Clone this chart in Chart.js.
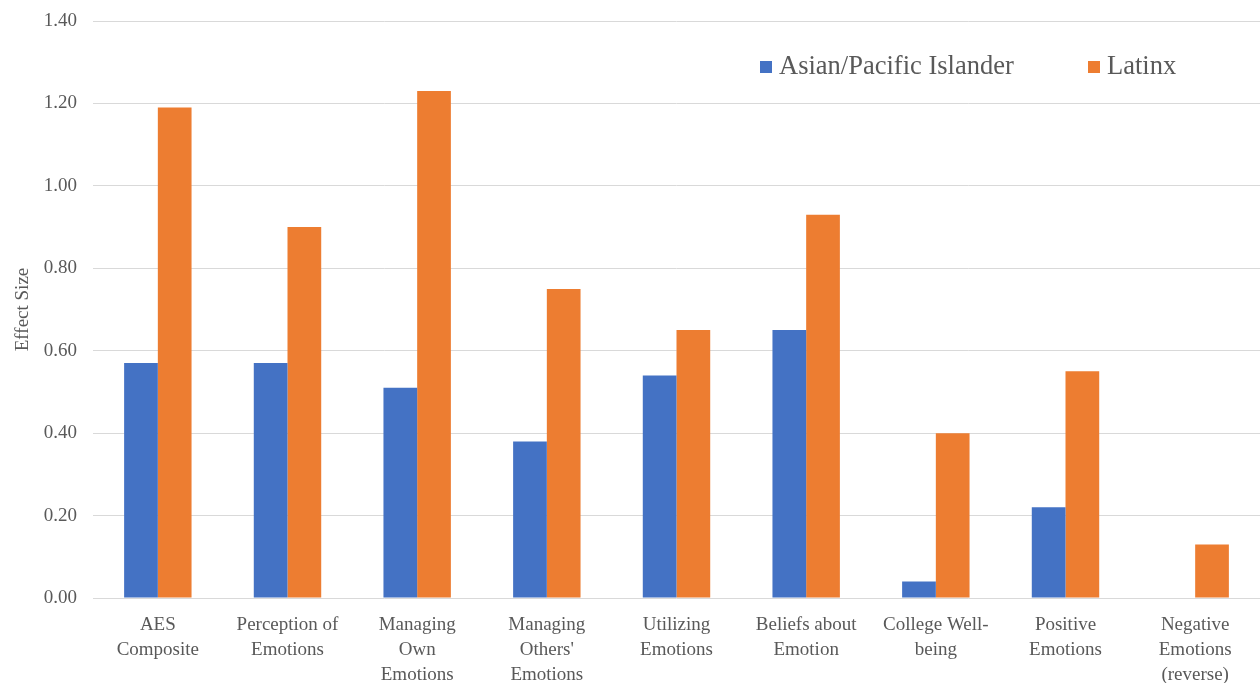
<!DOCTYPE html>
<html>
<head>
<meta charset="utf-8">
<script src="https://cdn.jsdelivr.net/npm/chart.js@4"></script>
<style>
  html, body { margin: 0; padding: 0; background: #fff; }
  #wrap { width: 1260px; height: 683px; }
</style>
</head>
<body>
<div id="wrap"><canvas id="chart-0" width="1260" height="683"></canvas></div>
<script>
// categories and effect sizes
var categories = [
    ["AES", "Composite"],
    ["Perception of", "Emotions"],
    ["Managing", "Own", "Emotions"],
    ["Managing", "Others'", "Emotions"],
    ["Utilizing", "Emotions"],
    ["Beliefs about", "Emotion"],
    ["College Well-", "being"],
    ["Positive", "Emotions"],
    ["Negative", "Emotions", "(reverse)"]
];
var asianValues = [0.57, 0.57, 0.51, 0.38, 0.54, 0.65, 0.04, 0.22, 0];
var latinxValues = [1.19, 0.90, 1.23, 0.75, 0.65, 0.93, 0.40, 0.55, 0.13];
var seriesNames = ["Asian/Pacific Islander", "Latinx"];
var yTicks = [0, 0.2, 0.4, 0.6, 0.8, 1.0, 1.2, 1.4];

var serif = "'Liberation Serif', 'Times New Roman', serif";

// legend drawn inside the plot, top right
var insideLegend = {
    id: 'insideLegend',
    afterDraw: function (chart) {
        var ctx = chart.ctx;
        var spots = [760, 1088];
        ctx.save();
        ctx.font = "26.5px " + serif;
        ctx.textBaseline = "middle";
        chart.data.datasets.forEach(function (ds, i) {
            var x = spots[i];
            ctx.fillStyle = ds.backgroundColor;
            ctx.fillRect(x, 61, 12, 12);
            ctx.fillStyle = "#595959";
            ctx.fillText(ds.label, x + 19, 67);
        });
        ctx.restore();
    }
};

var ctx = document.getElementById("chart-0");
var myChart = new Chart(ctx, {
    type: "bar",
    data: {
        labels: categories,
        datasets: [{
            label: seriesNames[0],
            data: asianValues,
            backgroundColor: "#4472C4"
        }, {
            label: seriesNames[1],
            data: latinxValues,
            backgroundColor: "#ED7D31"
        }]
    },
    options: {
        responsive: false,
        animation: false,
        layout: { padding: { top: 21, right: 0, left: 0, bottom: 0 } },
        plugins: {
            legend: { display: false },
            tooltip: { enabled: false }
        },
        datasets: {
            bar: { categoryPercentage: 0.52, barPercentage: 1.0 }
        },
        scales: {
            x: {
                grid: { display: false },
                border: { display: false },
                ticks: {
                    color: "#595959",
                    font: { family: serif, size: 19, lineHeight: 1.3 },
                    maxRotation: 0,
                    autoSkip: false,
                    padding: 7
                },
                afterFit: function (scale) { scale.height = 85; }
            },
            y: {
                min: 0,
                max: 1.4,
                afterBuildTicks: function (scale) {
                    scale.ticks = yTicks.map(function (v) { return { value: v }; });
                },
                grid: { color: "#d9d9d9", lineWidth: 1, drawTicks: false },
                border: { display: false },
                ticks: {
                    color: "#595959",
                    font: { family: serif, size: 19 },
                    padding: 16,
                    callback: function (v) { return v.toFixed(2); }
                },
                title: {
                    display: true,
                    text: "Effect Size",
                    color: "#595959",
                    font: { family: serif, size: 19 },
                    padding: { top: 12, bottom: 0 }
                },
                afterFit: function (scale) {
                    scale.width = 93;
                    scale.paddingTop = 0;
                    scale.paddingBottom = 0;
                }
            }
        }
    },
    plugins: [insideLegend]
});
</script>
</body>
</html>
